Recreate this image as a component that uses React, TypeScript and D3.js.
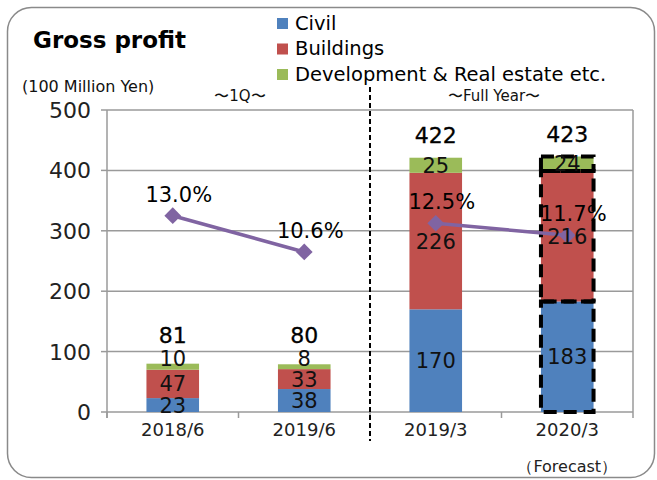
import React from "react";
import * as d3 from "d3";

const categories = ["2018/6", "2019/6", "2019/3", "2020/3"];
const civil = [23, 38, 170, 183];
const buildings = [47, 33, 226, 216];
const development = [10, 8, 25, 24];
const totals = [81, 80, 422, 423];
const margins = [13.0, 10.6, 12.5, 11.7];
const yTicks = [0, 100, 200, 300, 400, 500];
const seriesNames = ["Civil", "Buildings", "Development & Real estate etc."];
const seriesColors = ["#4F81BD", "#C0504D", "#9BBB59"];
const lineGroups = [[0, 1], [2, 3]];
const forecastIndex = 3;

const W = 657;
const H = 480;
const FONT = "'DejaVu Sans', 'Liberation Sans', Arial, sans-serif";

export default function App() {
  const left = 107, right = 633, top = 110, bottom = 412;
  const x = d3.scaleBand<string>().domain(categories).range([left, right]).paddingInner(0.6).paddingOuter(0.3);
  const y = d3.scaleLinear().domain([0, 500]).range([bottom, top]);
  const y2 = d3.scaleLinear().domain([0, 20]).range([bottom, top]);
  const bw = x.bandwidth();
  const cx = (c: string) => (x(c) as number) + bw / 2;

  const table = categories.map((c, i) => ({ cat: c, civil: civil[i], buildings: buildings[i], development: development[i] }));
  const keys = ["civil", "buildings", "development"];
  const stacked = d3.stack<any>().keys(keys)(table);

  const boundaries = d3.range(categories.length + 1).map((i) => left + i * (right - left) / categories.length);
  const divider = boundaries[2];

  const diamond = d3.symbol().type(d3.symbolSquare).size(140);
  const line = d3.line<number>().x((i) => cx(categories[i])).y((i) => y2(margins[i]));

  const isSmall = (d: any) => y(d[0]) - y(d[1]) < 12;
  const topSeries = stacked[stacked.length - 1];

  return (
    <svg width={W} height={H} style={{ position: "absolute", left: 0, top: 0, background: "#fff" }} fontFamily={FONT}>
      <rect x={7.5} y={7.5} width={647} height={470} rx={24} ry={24} fill="#fff" stroke="#8a8a8a" strokeWidth={1.5} />

      <text x={33} y={48} fontSize={23} fontWeight="bold" fill="#000">Gross profit</text>
      <text x={22} y={92} fontSize={16} fill="#111">(100 Million Yen)</text>
      <text x={240} y={101} fontSize={15} fill="#111" textAnchor="middle">〜1Q〜</text>
      <text x={494} y={101} fontSize={15} fill="#111" textAnchor="middle">〜Full Year〜</text>

      {seriesNames.map((n, i) => (
        <g key={n}>
          <rect x={277} y={18 + i * 25.5} width={11} height={11} fill={seriesColors[i]} />
          <text x={295} y={29.5 + i * 25.5} fontSize={19.5} fill="#000">{n}</text>
        </g>
      ))}

      {/* gridlines */}
      {yTicks.map((t) => (
        <g key={t}>
          {t > 0 && <line x1={left} x2={right} y1={y(t)} y2={y(t)} stroke="#9a9a9a" strokeWidth={1.5} />}
          <line x1={left - 6} x2={left} y1={y(t)} y2={y(t)} stroke="#9a9a9a" strokeWidth={1.5} />
          <text x={91} y={y(t) + 8} fontSize={22} fill="#222" textAnchor="end">{t}</text>
        </g>
      ))}
      <line x1={right} x2={right} y1={top} y2={bottom} stroke="#9a9a9a" strokeWidth={1.5} />
      <line x1={left} x2={left} y1={top} y2={bottom + 6} stroke="#9a9a9a" strokeWidth={1.5} />
      <line x1={left} x2={right} y1={bottom} y2={bottom} stroke="#9a9a9a" strokeWidth={1.5} />
      {boundaries.map((b, i) => (
        <line key={i} x1={b} x2={b} y1={bottom} y2={bottom + 6} stroke="#9a9a9a" strokeWidth={1.5} />
      ))}

      {/* bars */}
      {stacked.map((s, si) => (
        <g key={s.key}>
          {s.map((d, i) => (
            <rect key={i} x={x(categories[i])} y={y(d[1])} width={bw} height={y(d[0]) - y(d[1])} fill={seriesColors[si]} />
          ))}
        </g>
      ))}

      {/* forecast dashed outlines */}
      {stacked.map((s) => {
        const d = s[forecastIndex];
        return (
          <rect key={"f" + s.key} x={x(categories[forecastIndex])} y={y(d[1])} width={bw} height={y(d[0]) - y(d[1])}
            fill="none" stroke="#000" strokeWidth={4} strokeDasharray="13,7" />
        );
      })}

      {/* divider */}
      <line x1={divider} x2={divider} y1={87} y2={441} stroke="#000" strokeWidth={2} strokeDasharray="5,3" />

      {/* margin line */}
      {lineGroups.map((g, gi) => (
        <path key={gi} d={line(g) as string} fill="none" stroke="#8064A2" strokeWidth={3.5} />
      ))}
      {categories.map((c, i) => (
        <path key={c} d={diamond() as string} transform={`translate(${cx(c)},${y2(margins[i])}) rotate(45)`} fill="#8064A2" />
      ))}

      {/* segment labels */}
      {stacked.map((s) => (
        <g key={"l" + s.key}>
          {s.map((d, i) => {
            const v = d[1] - d[0];
            const yy = isSmall(d) ? y(d[1]) + 2 : (y(d[0]) + y(d[1])) / 2 + 7.5;
            return (
              <text key={i} x={cx(categories[i])} y={yy} fontSize={21} fill="#111" textAnchor="middle">{v}</text>
            );
          })}
        </g>
      ))}

      {/* totals */}
      {categories.map((c, i) => {
        const td = topSeries[i];
        const yy = isSmall(td) ? y(td[1]) + 2 - 23 : y(td[1]) - 15;
        return (
          <text key={"t" + c} x={cx(c)} y={yy} fontSize={22} fill="#000" textAnchor="middle" stroke="#000" strokeWidth={0.3}>{totals[i]}</text>
        );
      })}

      {/* margin labels */}
      {categories.map((c, i) => (
        <text key={"m" + c} x={cx(c) + 6} y={y2(margins[i]) - 14} fontSize={21} fill="#000" textAnchor="middle">{margins[i].toFixed(1) + "%"}</text>
      ))}

      {/* x labels */}
      {categories.map((c) => (
        <text key={"x" + c} x={cx(c)} y={436} fontSize={18} fill="#222" textAnchor="middle">{c}</text>
      ))}
      <text x={cx(categories[forecastIndex])} y={472} fontSize={16} fill="#222" textAnchor="middle">（Forecast）</text>
    </svg>
  );
}
